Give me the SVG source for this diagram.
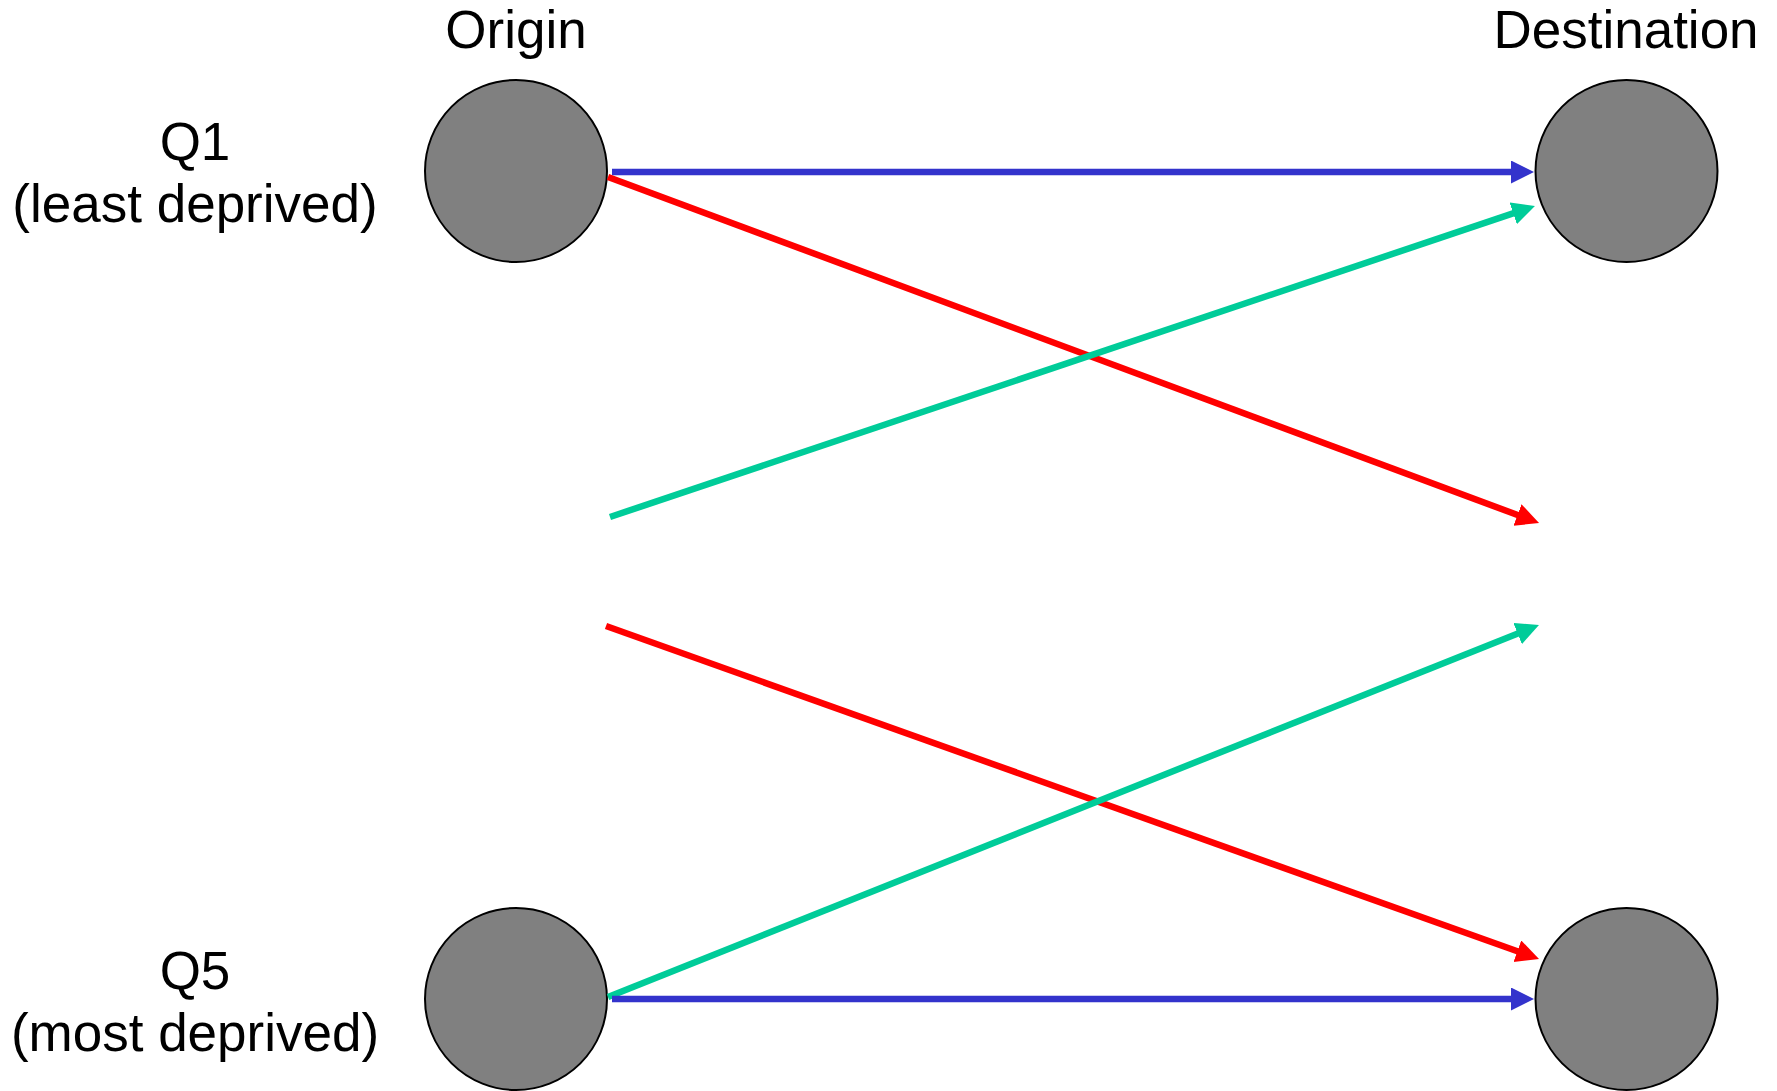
<svg xmlns="http://www.w3.org/2000/svg" width="1777" height="1091" viewBox="0 0 1777 1091">
<style>
.lbl{font-family:"Liberation Sans",Arial,sans-serif;font-size:53px;fill:#000;text-anchor:middle}
.node{fill:#808080;stroke:#000;stroke-width:2}
.blue{stroke:#3333cc;stroke-width:6.5;fill:none}
.red{stroke:#ff0000;stroke-width:6.5;fill:none}
.green{stroke:#00cc99;stroke-width:6.5;fill:none}
</style>
<defs>
<marker id="ab" markerUnits="userSpaceOnUse" markerWidth="24" markerHeight="24" refX="3" refY="11.5" orient="auto"><path d="M0,0 L23,11.5 L0,23 Z" fill="#3333cc"/></marker>
<marker id="ar" markerUnits="userSpaceOnUse" markerWidth="24" markerHeight="24" refX="3" refY="11.5" orient="auto"><path d="M0,0 L23,11.5 L0,23 Z" fill="#ff0000"/></marker>
<marker id="ag" markerUnits="userSpaceOnUse" markerWidth="24" markerHeight="24" refX="3" refY="11.5" orient="auto"><path d="M0,0 L23,11.5 L0,23 Z" fill="#00cc99"/></marker>
</defs>
<rect width="1777" height="1091" fill="#fff"/>
<g id="labels">
<text class="lbl" x="516" y="48">Origin</text>
<text class="lbl" x="1626" y="48">Destination</text>
<text class="lbl" x="195" y="160">Q1</text>
<text class="lbl" x="195" y="222">(least deprived)</text>
<text class="lbl" x="195" y="989">Q5</text>
<text class="lbl" x="195" y="1051">(most deprived)</text>
</g>
<g id="origin-q1"><circle class="node" cx="516" cy="171" r="91"/></g>
<g id="dest-q1"><circle class="node" cx="1626.5" cy="171" r="91"/></g>
<g id="origin-q5"><circle class="node" cx="516" cy="999" r="91"/></g>
<g id="dest-q5"><circle class="node" cx="1626.5" cy="999" r="91"/></g>
<g id="connectors">
<line class="blue" x1="612" y1="172" x2="1514" y2="172" marker-end="url(#ab)"/>
<line class="red" x1="608" y1="177" x2="1520.3" y2="516" marker-end="url(#ar)"/>
<line class="green" x1="610" y1="517" x2="1516" y2="212.4" marker-end="url(#ag)"/>
<line class="red" x1="606" y1="626" x2="1520.2" y2="952.3" marker-end="url(#ar)"/>
<line class="green" x1="608" y1="997" x2="1520.4" y2="632.4" marker-end="url(#ag)"/>
<line class="blue" x1="612" y1="999" x2="1514" y2="999" marker-end="url(#ab)"/>
</g>
</svg>
